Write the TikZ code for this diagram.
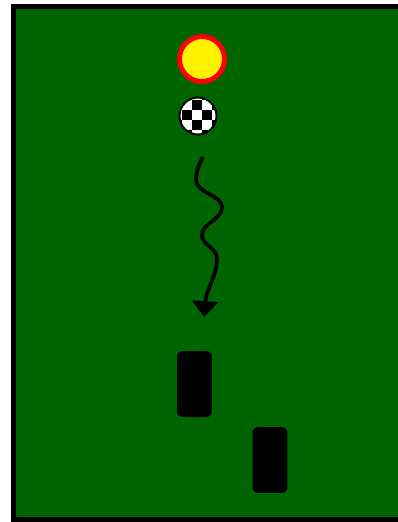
\documentclass[tikz,border=0pt]{standalone}
\usepackage[dvipsnames,svgnames]{xcolor}
\usetikzlibrary{arrows.meta, positioning, shapes.geometric}

\definecolor{pitch}{RGB}{0,100,0}

\begin{document}
\begin{tikzpicture}[
  x=0.02cm, y=-0.02cm,
  >=Stealth,
  ball/.style={circle, draw=red, fill=yellow, line width=2.8pt, minimum size=0.9cm, inner sep=0pt},
  puck/.style={circle, draw=black, line width=1.1pt, minimum size=0.74cm, inner sep=0pt},
  block/.style={rectangle, fill=black, rounded corners=3.4pt, minimum width=0.7cm, minimum height=1.32cm, inner sep=0pt},
  wave/.style={line width=2.1pt, -{Triangle[width=14.7pt, length=9pt]}},
]
\useasboundingbox (0,0) rectangle (397,522);

% --- Field ---
\draw[line width=2.8pt, fill=pitch] (13.5,6.5) rectangle (430,519.5);

% --- Ball ---
\node[ball] (target) at (202,59) {};

% --- Checkered puck ---
\begin{scope}
  \clip (198,116) circle (18.5);
  \fill[white] (198,116) circle (18.5);
  \foreach \i in {0,...,4} {
    \foreach \j in {-1,...,3} {
      \pgfmathtruncatemacro\cellpar{mod(\i+\j+2,2)}
      \ifnum\cellpar=0
        \fill[black] (171.7+10*\i,100+10*\j) rectangle ++(10,10);
      \fi
    }
  }
\end{scope}
\node[puck] (piece) at (198,116) {};

% --- Path of the piece ---
\coordinate (wave start) at (203,157);
\coordinate (wave end) at (204,317);
\draw[wave] (wave start) .. controls (199,164) and (196,172) .. (196,180)
  .. controls (196,193) and (222,195) .. (222,207)
  .. controls (222,220) and (202,223) .. (202,235)
  .. controls (202,246) and (217,247) .. (217,259)
  .. controls (217,275) and (206,290) .. (205,303) -- (wave end);

% --- Obstacles ---
\node[block] (left block) at (194.5,384) {};
\node[block] (right block) at (270,460) {};

\end{tikzpicture}
\end{document}
